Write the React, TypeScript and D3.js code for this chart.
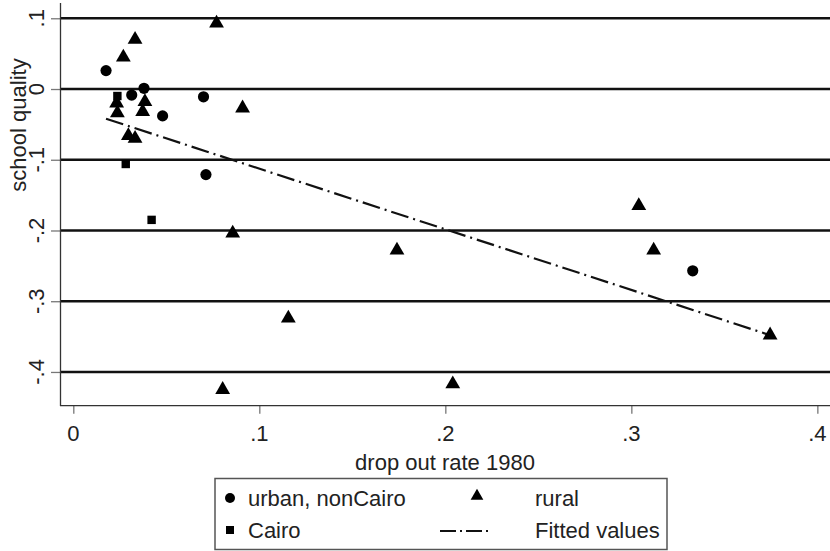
import * as d3 from "d3";
import { useEffect, useRef } from "react";

// urban, nonCairo: [drop out rate, school quality]
const urbanX = [0.0176, 0.038, 0.0314, 0.048, 0.07, 0.0713, 0.333];
const urbanY = [0.026, 0.001, -0.0085, -0.038, -0.011, -0.121, -0.257];

// Cairo
const cairoX = [0.0237, 0.0282, 0.0421];
const cairoY = [-0.0099, -0.106, -0.185];

// rural
const ruralX = [
  0.077, 0.0332, 0.0269, 0.0233, 0.0385, 0.0237, 0.0373, 0.091, 0.0296, 0.0332,
  0.0857, 0.174, 0.1156, 0.0803, 0.204, 0.304, 0.312, 0.3746,
];
const ruralY = [
  0.093, 0.07, 0.045, -0.02, -0.018, -0.034, -0.032, -0.027, -0.066, -0.07,
  -0.204, -0.228, -0.324, -0.425, -0.417, -0.165, -0.228, -0.348,
];

// fitted values line (end points)
const fitX = [0.0176, 0.3746];
const fitY = [-0.042, -0.348];

const xTicks = [0, 0.1, 0.2, 0.3, 0.4];
const yTicks = [0.1, 0, -0.1, -0.2, -0.3, -0.4];

const fmt = (v: number) => {
  if (v === 0) return "0";
  const s = String(v);
  return s.replace("0.", ".");
};

function App() {
  const ref = useRef<SVGSVGElement>(null);

  useEffect(() => {
    const svg = d3.select(ref.current);
    svg.selectAll("*").remove();
    const font = "'Liberation Sans', Arial, sans-serif";
    const fs = 22;

    const xScale = d3.scaleLinear().domain([-0.00715, 0.4068]).range([60, 830]);
    const yScale = d3.scaleLinear().domain([-0.4477, 0.1216]).range([405.7, 3]);

    // grid lines
    svg
      .append("g")
      .selectAll("line")
      .data(yTicks)
      .join("line")
      .attr("x1", 60)
      .attr("x2", 830)
      .attr("y1", (d) => yScale(d))
      .attr("y2", (d) => yScale(d))
      .attr("stroke", "#111")
      .attr("stroke-width", 2.5);

    // y axis
    const yAxis = svg
      .append("g")
      .attr("transform", "translate(60,0)")
      .call(d3.axisLeft(yScale).tickValues(yTicks).tickSize(9).tickFormat(() => ""));
    yAxis.select(".domain").remove();
    yAxis.selectAll(".tick line").attr("stroke", "#777").attr("stroke-width", 1.3);
    svg
      .append("line")
      .attr("x1", 60.5)
      .attr("x2", 60.5)
      .attr("y1", 3)
      .attr("y2", 406)
      .attr("stroke", "#333")
      .attr("stroke-width", 1.3);

    svg
      .append("g")
      .selectAll("text")
      .data(yTicks)
      .join("text")
      .attr("transform", (d) => `translate(36,${yScale(d)}) rotate(-90)`)
      .attr("text-anchor", "middle")
      .attr("dy", "0.36em")
      .attr("font-family", font)
      .attr("font-size", fs)
      .attr("fill", "#222")
      .text((d) => fmt(d));

    svg
      .append("text")
      .attr("transform", `translate(18,125) rotate(-90)`)
      .attr("text-anchor", "middle")
      .attr("dy", "0.36em")
      .attr("font-family", font)
      .attr("font-size", fs)
      .attr("fill", "#222")
      .text("school quality");

    // x axis
    const xAxis = svg
      .append("g")
      .attr("transform", "translate(0,405.7)")
      .call(d3.axisBottom(xScale).tickValues(xTicks).tickSize(8).tickFormat(() => ""));
    xAxis.select(".domain").remove();
    xAxis.selectAll(".tick line").attr("stroke", "#777").attr("stroke-width", 1.3);
    svg
      .append("line")
      .attr("x1", 60)
      .attr("x2", 830)
      .attr("y1", 405.7)
      .attr("y2", 405.7)
      .attr("stroke", "#333")
      .attr("stroke-width", 1.3);

    svg
      .append("g")
      .selectAll("text")
      .data(xTicks)
      .join("text")
      .attr("x", (d) => xScale(d))
      .attr("y", 433)
      .attr("text-anchor", "middle")
      .attr("dy", "0.36em")
      .attr("font-family", font)
      .attr("font-size", fs)
      .attr("fill", "#222")
      .text((d) => fmt(d));

    svg
      .append("text")
      .attr("x", 445)
      .attr("y", 462)
      .attr("text-anchor", "middle")
      .attr("dy", "0.36em")
      .attr("font-family", font)
      .attr("font-size", fs)
      .attr("fill", "#222")
      .text("drop out rate 1980");

    // fitted line
    const line = d3
      .line<number>()
      .x((d) => xScale(d))
      .y((_, i) => yScale(fitY[i]));
    svg
      .append("path")
      .datum(fitX)
      .attr("d", line)
      .attr("fill", "none")
      .attr("stroke", "#111")
      .attr("stroke-width", 2.2)
      .attr("stroke-dasharray", "18,5,2,5");

    const tri = d3.symbol().type(d3.symbolTriangle).size(95);
    const triSmall = d3.symbol().type(d3.symbolTriangle).size(70);

    // rural triangles
    svg
      .append("g")
      .selectAll("path")
      .data(ruralX)
      .join("path")
      .attr("transform", (d, i) => `translate(${xScale(d)},${yScale(ruralY[i])})`)
      .attr("d", tri)
      .attr("fill", "#000");

    // Cairo squares
    svg
      .append("g")
      .selectAll("rect")
      .data(cairoX)
      .join("rect")
      .attr("x", (d) => xScale(d) - 4.2)
      .attr("y", (d, i) => yScale(cairoY[i]) - 4.2)
      .attr("width", 8.4)
      .attr("height", 8.4)
      .attr("fill", "#000");

    // urban circles
    svg
      .append("g")
      .selectAll("circle")
      .data(urbanX)
      .join("circle")
      .attr("cx", (d) => xScale(d))
      .attr("cy", (d, i) => yScale(urbanY[i]))
      .attr("r", 5.6)
      .attr("fill", "#000");

    // legend
    const lg = svg.append("g");
    lg.append("rect")
      .attr("x", 215)
      .attr("y", 478.5)
      .attr("width", 452)
      .attr("height", 71)
      .attr("fill", "#fff")
      .attr("stroke", "#555")
      .attr("stroke-width", 1.5);

    lg.append("circle").attr("cx", 230).attr("cy", 498).attr("r", 5).attr("fill", "#000");
    lg.append("rect").attr("x", 226).attr("y", 526).attr("width", 8).attr("height", 8).attr("fill", "#000");
    lg.append("path").attr("transform", "translate(477,496)").attr("d", triSmall).attr("fill", "#000");
    lg.append("line")
      .attr("x1", 440)
      .attr("x2", 489)
      .attr("y1", 531)
      .attr("y2", 531)
      .attr("stroke", "#111")
      .attr("stroke-width", 1.8)
      .attr("stroke-dasharray", "16,4,2,4");

    const items = [
      { x: 248, y: 498, t: "urban, nonCairo" },
      { x: 248, y: 530, t: "Cairo" },
      { x: 535, y: 498, t: "rural" },
      { x: 535, y: 530, t: "Fitted values" },
    ];
    lg.selectAll("text.lab")
      .data(items)
      .join("text")
      .attr("class", "lab")
      .attr("x", (d) => d.x)
      .attr("y", (d) => d.y)
      .attr("dy", "0.36em")
      .attr("font-family", font)
      .attr("font-size", fs)
      .attr("fill", "#222")
      .text((d) => d.t);
  }, []);

  return (
    <svg
      ref={ref}
      width={830}
      height={551}
      style={{ position: "absolute", left: 0, top: 0, background: "#fff" }}
    />
  );
}

export default App;
